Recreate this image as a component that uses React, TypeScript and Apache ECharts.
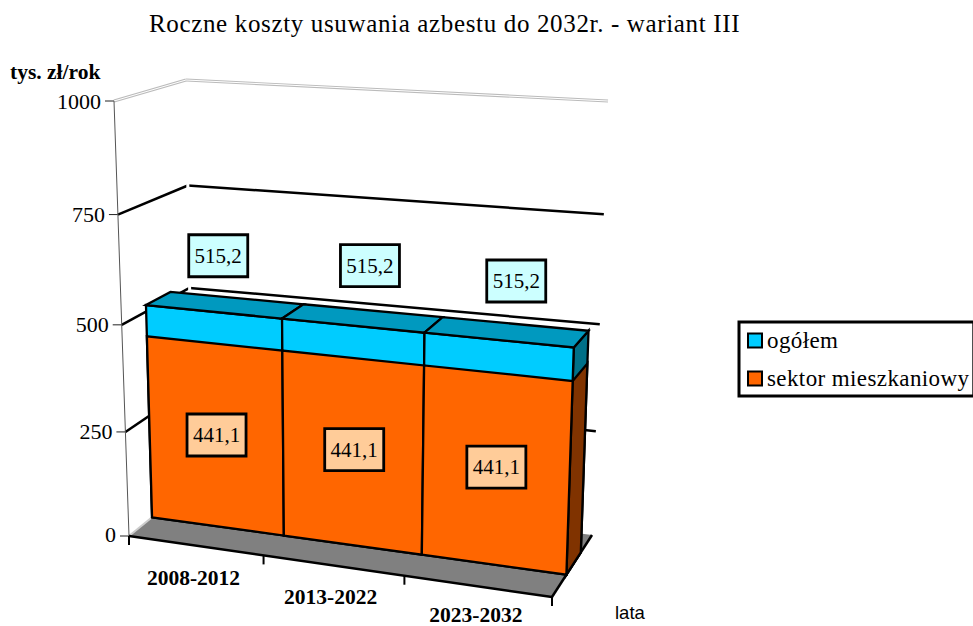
import React, { useEffect, useRef } from "react";
import * as echarts from "echarts";

const titleText = "Roczne koszty usuwania azbestu do 2032r. - wariant III";
const categories = ["2008-2012", "2013-2022", "2023-2032"];
const totalName = "ogółem";
const totalValues = [515.2, 515.2, 515.2];
const housingName = "sektor mieszkaniowy";
const housingValues = [441.1, 441.1, 441.1];
const yTicks = [0, 250, 500, 750, 1000];
const yAxisName = "tys. zł/rok";
const xAxisName = "lata";

const SERIF = "Liberation Serif";
const G = { left: 100, top: 100, width: 600, height: 400 };
const YMAX = 1000;
const floorQuad = [[129, 536], [552, 597], [592, 535], [193, 484]];
const roofQuad = [[114, 101], [566, 132], [608, 101], [186, 80]];
const PERSP_W = 1.06;
const PERSP_U = 0.933;
const BAR_V0 = 0.36;
const BAR_V1 = 0.72;
const STROKE = 2.3;

function quadMap(q: number[][]) {
  return (u: number, v: number) => {
    const s = (u * PERSP_U) / (u * PERSP_U + 1 - u);
    const at = (k: number) =>
      (1 - s) * (1 - v) * q[0][k] + s * (1 - v) * q[1][k] + s * v * q[2][k] + (1 - s) * v * q[3][k];
    return [at(0), at(1)];
  };
}
const floorAt = quadMap(floorQuad);
const roofAt = quadMap(roofQuad);

function project(u: number, v: number, w: number) {
  const f = floorAt(u, v);
  const r = roofAt(u, v);
  const t = w / (w + (1 - w) * PERSP_W);
  return [f[0] + (r[0] - f[0]) * t, f[1] + (r[1] - f[1]) * t];
}
// library scale -> box coordinates
function boxU(api: any, i: number, side: number) {
  const c = api.coord([i, 0]);
  const bw = api.size([1, 0])[0];
  return (c[0] + (side * bw) / 2 - G.left) / G.width;
}
function boxW(api: any, value: number) {
  const c = api.coord([0, value]);
  return (G.top + G.height - c[1]) / G.height;
}
const poly = (points: number[][], fill: string, lw = STROKE, stroke = "#000") => ({
  type: "polygon",
  shape: { points },
  style: { fill, stroke, lineWidth: lw, lineJoin: "miter" },
  silent: true,
});
const line = (a: number[], b: number[], stroke: string, lw: number) => ({
  type: "line",
  shape: { x1: a[0], y1: a[1], x2: b[0], y2: b[1] },
  style: { stroke, lineWidth: lw },
  silent: true,
});
const text = (x: number, y: number, s: string, font: string, align = "center") => ({
  type: "text",
  style: { x, y, text: s, font, align, verticalAlign: "middle", fill: "#000" },
  silent: true,
});

function barFaces(api: any, i: number, value: number, front: string, top: string | null, side: string) {
  const u0 = boxU(api, i, -1), u1 = boxU(api, i, 1);
  const w = boxW(api, value);
  const children: any[] = [];
  const a = project(u0, BAR_V0, 0), b = project(u1, BAR_V0, 0);
  const c = project(u1, BAR_V0, w), d = project(u0, BAR_V0, w);
  const e = project(u1, BAR_V1, w), f = project(u0, BAR_V1, w), g = project(u1, BAR_V1, 0);
  if (i === categories.length - 1) children.push(poly([b, g, e, c], side));
  children.push(poly([a, b, c, d], front));
  if (top) children.push(poly([d, c, e, f], top));
  return { type: "group", children };
}

// label offsets from the projected anchor point (px)
const totalLabelShift = [[5, -56], [17.5, -60], [18, -59]];
const housingLabelShift = [[1, -1], [2, -3], [1, -3]];
const categoryLabelShift = [[-2, 32], [-2.5, 31.5], [-1.5, 29]];
const labelBox = [59, 42];

function labelBoxEl(cx: number, cy: number, s: string, fill: string) {
  return {
    type: "group",
    children: [
      {
        type: "rect",
        shape: { x: cx - labelBox[0] / 2, y: cy - labelBox[1] / 2, width: labelBox[0], height: labelBox[1] },
        style: { fill, stroke: "#000", lineWidth: 2.8 },
        silent: true,
      },
      text(cx, cy, s, `21px "${SERIF}"`),
    ],
  };
}

export default function App() {
  const ref = useRef<HTMLDivElement>(null);
  useEffect(() => {
    document.body.style.margin = "0";
    const chart = echarts.init(ref.current!, undefined, { renderer: "svg" });
    const spacing = () => {
      ref.current?.querySelectorAll("text").forEach((t: any) => {
        const s = t.textContent;
        if (s === titleText) t.style.letterSpacing = "0.65px";
        if (s === totalName || s === housingName) t.style.letterSpacing = "0.4px";
      });
    };
    chart.on("finished", spacing);
    chart.setOption({
      animation: false,
      backgroundColor: "#fff",
      title: {
        text: titleText,
        left: 149,
        top: 11,
        textStyle: { fontFamily: SERIF, fontSize: 25, fontWeight: "normal", color: "#000" },
        padding: 0,
      },
      legend: {
        left: 739,
        top: 322,
        orient: "vertical",
        data: [totalName, housingName],
        icon: "rect",
        itemWidth: 14,
        itemHeight: 14,
        itemGap: 15,
        padding: [7, 12, 6, 8],
        borderColor: "#000",
        borderWidth: 3,
        backgroundColor: "#fff",
        selectedMode: false,
        textStyle: { fontFamily: SERIF, fontSize: 23, color: "#000" },
        itemStyle: { borderColor: "#000", borderWidth: 2 },
      },
      grid: { ...G },
      xAxis: { type: "category", data: categories, show: false, boundaryGap: true },
      yAxis: { type: "value", min: 0, max: YMAX, interval: 250, show: false },
      graphic: [
        { type: "text", style: { x: 10, y: 72, text: yAxisName, font: `bold 21.5px "${SERIF}"`, fill: "#000", align: "left", verticalAlign: "middle" } },
        { type: "text", style: { x: 615, y: 612, text: xAxisName, font: `18.5px "Liberation Sans"`, fill: "#000", align: "left", verticalAlign: "middle" } },
      ],
      series: [
        {
          type: "custom",
          name: "axes",
          coordinateSystem: "cartesian2d",
          z: 1,
          data: yTicks.map((t) => [0, t]),
          encode: { x: 0, y: 1 },
          renderItem: (_p: any, api: any) => {
            const value = api.value(1);
            const w = boxW(api, value);
            const fl = project(0, 0, w), bl = project(0, 1, w), br = project(1, 1, w);
            const children: any[] = [];
            if (value === 0) {
              const fr = project(1, 0, 0);
              children.push({ type: "polygon", shape: { points: [fl, fr, br, bl] }, style: { fill: "#808080" }, silent: true });
            } else if (value === YMAX) {
              for (const [a, b] of [[fl, bl], [bl, br]]) {
                children.push(line(a, b, "#bbb", 3));
                children.push(line(a, b, "#fff", 1));
              }
            } else {
              children.push(line(fl, bl, "#000", 2.5));
              children.push(line(bl, br, "#000", 2.5));
            }
            children.push(line([fl[0] - 9, fl[1]], [fl[0], fl[1]], "#222", 1));
            children.push(text(fl[0] - 13, fl[1] - (value === 0 ? 2 : 0), String(value), `22px "${SERIF}"`, "right"));
            return { type: "group", children };
          },
        },
        {
          type: "custom",
          name: "frame",
          coordinateSystem: "cartesian2d",
          z: 2,
          data: [[0, 0]],
          encode: { x: 0, y: 1 },
          renderItem: () => {
            const a = project(0, 0, 0), b = project(1, 0, 0), c = project(1, 1, 0), d = project(0, 1, 0);
            const top = project(0, 0, 1);
            const cornerB = project(0, 1, 0), cornerT = project(0, 1, 0.85);
            const out: any[] = [
              line(cornerB, cornerT, "#fff", 3),
              line(a, d, "#ccc", 2),
              line(a, top, "#555", 1),
              line(c, b, "#000", 2.5),
              line(a, b, "#000", 2.5),
            ];
            return { type: "group", children: out };
          },
        },
        {
          type: "custom",
          name: totalName,
          coordinateSystem: "cartesian2d",
          z: 3,
          itemStyle: { color: "#00ccff" },
          data: totalValues.map((v, i) => [i, v]),
          encode: { x: 0, y: 1 },
          renderItem: (_p: any, api: any) =>
            barFaces(api, api.value(0), api.value(1), "#00ccff", "#0099bf", "#007088"),
        },
        {
          type: "custom",
          name: housingName,
          coordinateSystem: "cartesian2d",
          z: 4,
          itemStyle: { color: "#ff6600" },
          data: housingValues.map((v, i) => [i, v]),
          encode: { x: 0, y: 1 },
          renderItem: (_p: any, api: any) =>
            barFaces(api, api.value(0), api.value(1), "#ff6600", null, "#803300"),
        },
        {
          type: "custom",
          name: "ticks",
          coordinateSystem: "cartesian2d",
          z: 5,
          data: [0, 1, 2, 3].map((i) => [Math.min(i, 2), i]),
          encode: { x: 0 },
          renderItem: (_p: any, api: any) => {
            const i = api.value(1);
            const u = i < 3 ? boxU(api, i, -1) : boxU(api, 2, 1);
            const p = project(u, 0, 0);
            return line([p[0], p[1]], [p[0], p[1] + 9], "#000", 2);
          },
        },
        {
          type: "custom",
          name: "categoryLabels",
          coordinateSystem: "cartesian2d",
          z: 5,
          data: categories.map((_, i) => [i, 0]),
          encode: { x: 0, y: 1 },
          renderItem: (_p: any, api: any) => {
            const i = api.value(0);
            const p = project((boxU(api, i, -1) + boxU(api, i, 1)) / 2, 0, 0);
            return text(p[0] + categoryLabelShift[i][0], p[1] + categoryLabelShift[i][1], categories[i], `bold 21.5px "${SERIF}"`);
          },
        },
        {
          type: "custom",
          name: "totalLabels",
          coordinateSystem: "cartesian2d",
          z: 6,
          data: totalValues.map((v, i) => [i, v]),
          encode: { x: 0, y: 1 },
          renderItem: (_p: any, api: any) => {
            const i = api.value(0), val = api.value(1);
            const u = (boxU(api, i, -1) + boxU(api, i, 1)) / 2;
            const p = project(u, BAR_V0, boxW(api, val));
            return labelBoxEl(p[0] + totalLabelShift[i][0], p[1] + totalLabelShift[i][1], val.toFixed(1).replace(".", ","), "#ccffff");
          },
        },
        {
          type: "custom",
          name: "housingLabels",
          coordinateSystem: "cartesian2d",
          z: 6,
          data: housingValues.map((v, i) => [i, v]),
          encode: { x: 0, y: 1 },
          renderItem: (_p: any, api: any) => {
            const i = api.value(0), val = api.value(1);
            const u = (boxU(api, i, -1) + boxU(api, i, 1)) / 2;
            const p = project(u, BAR_V0, boxW(api, val / 2));
            return labelBoxEl(p[0] + housingLabelShift[i][0], p[1] + housingLabelShift[i][1], val.toFixed(1).replace(".", ","), "#ffcc99");
          },
        },
      ],
    });
    spacing();
    return () => chart.dispose();
  }, []);
  return <div ref={ref} style={{ position: "fixed", left: 0, top: 0, width: 973, height: 626 }} />;
}
